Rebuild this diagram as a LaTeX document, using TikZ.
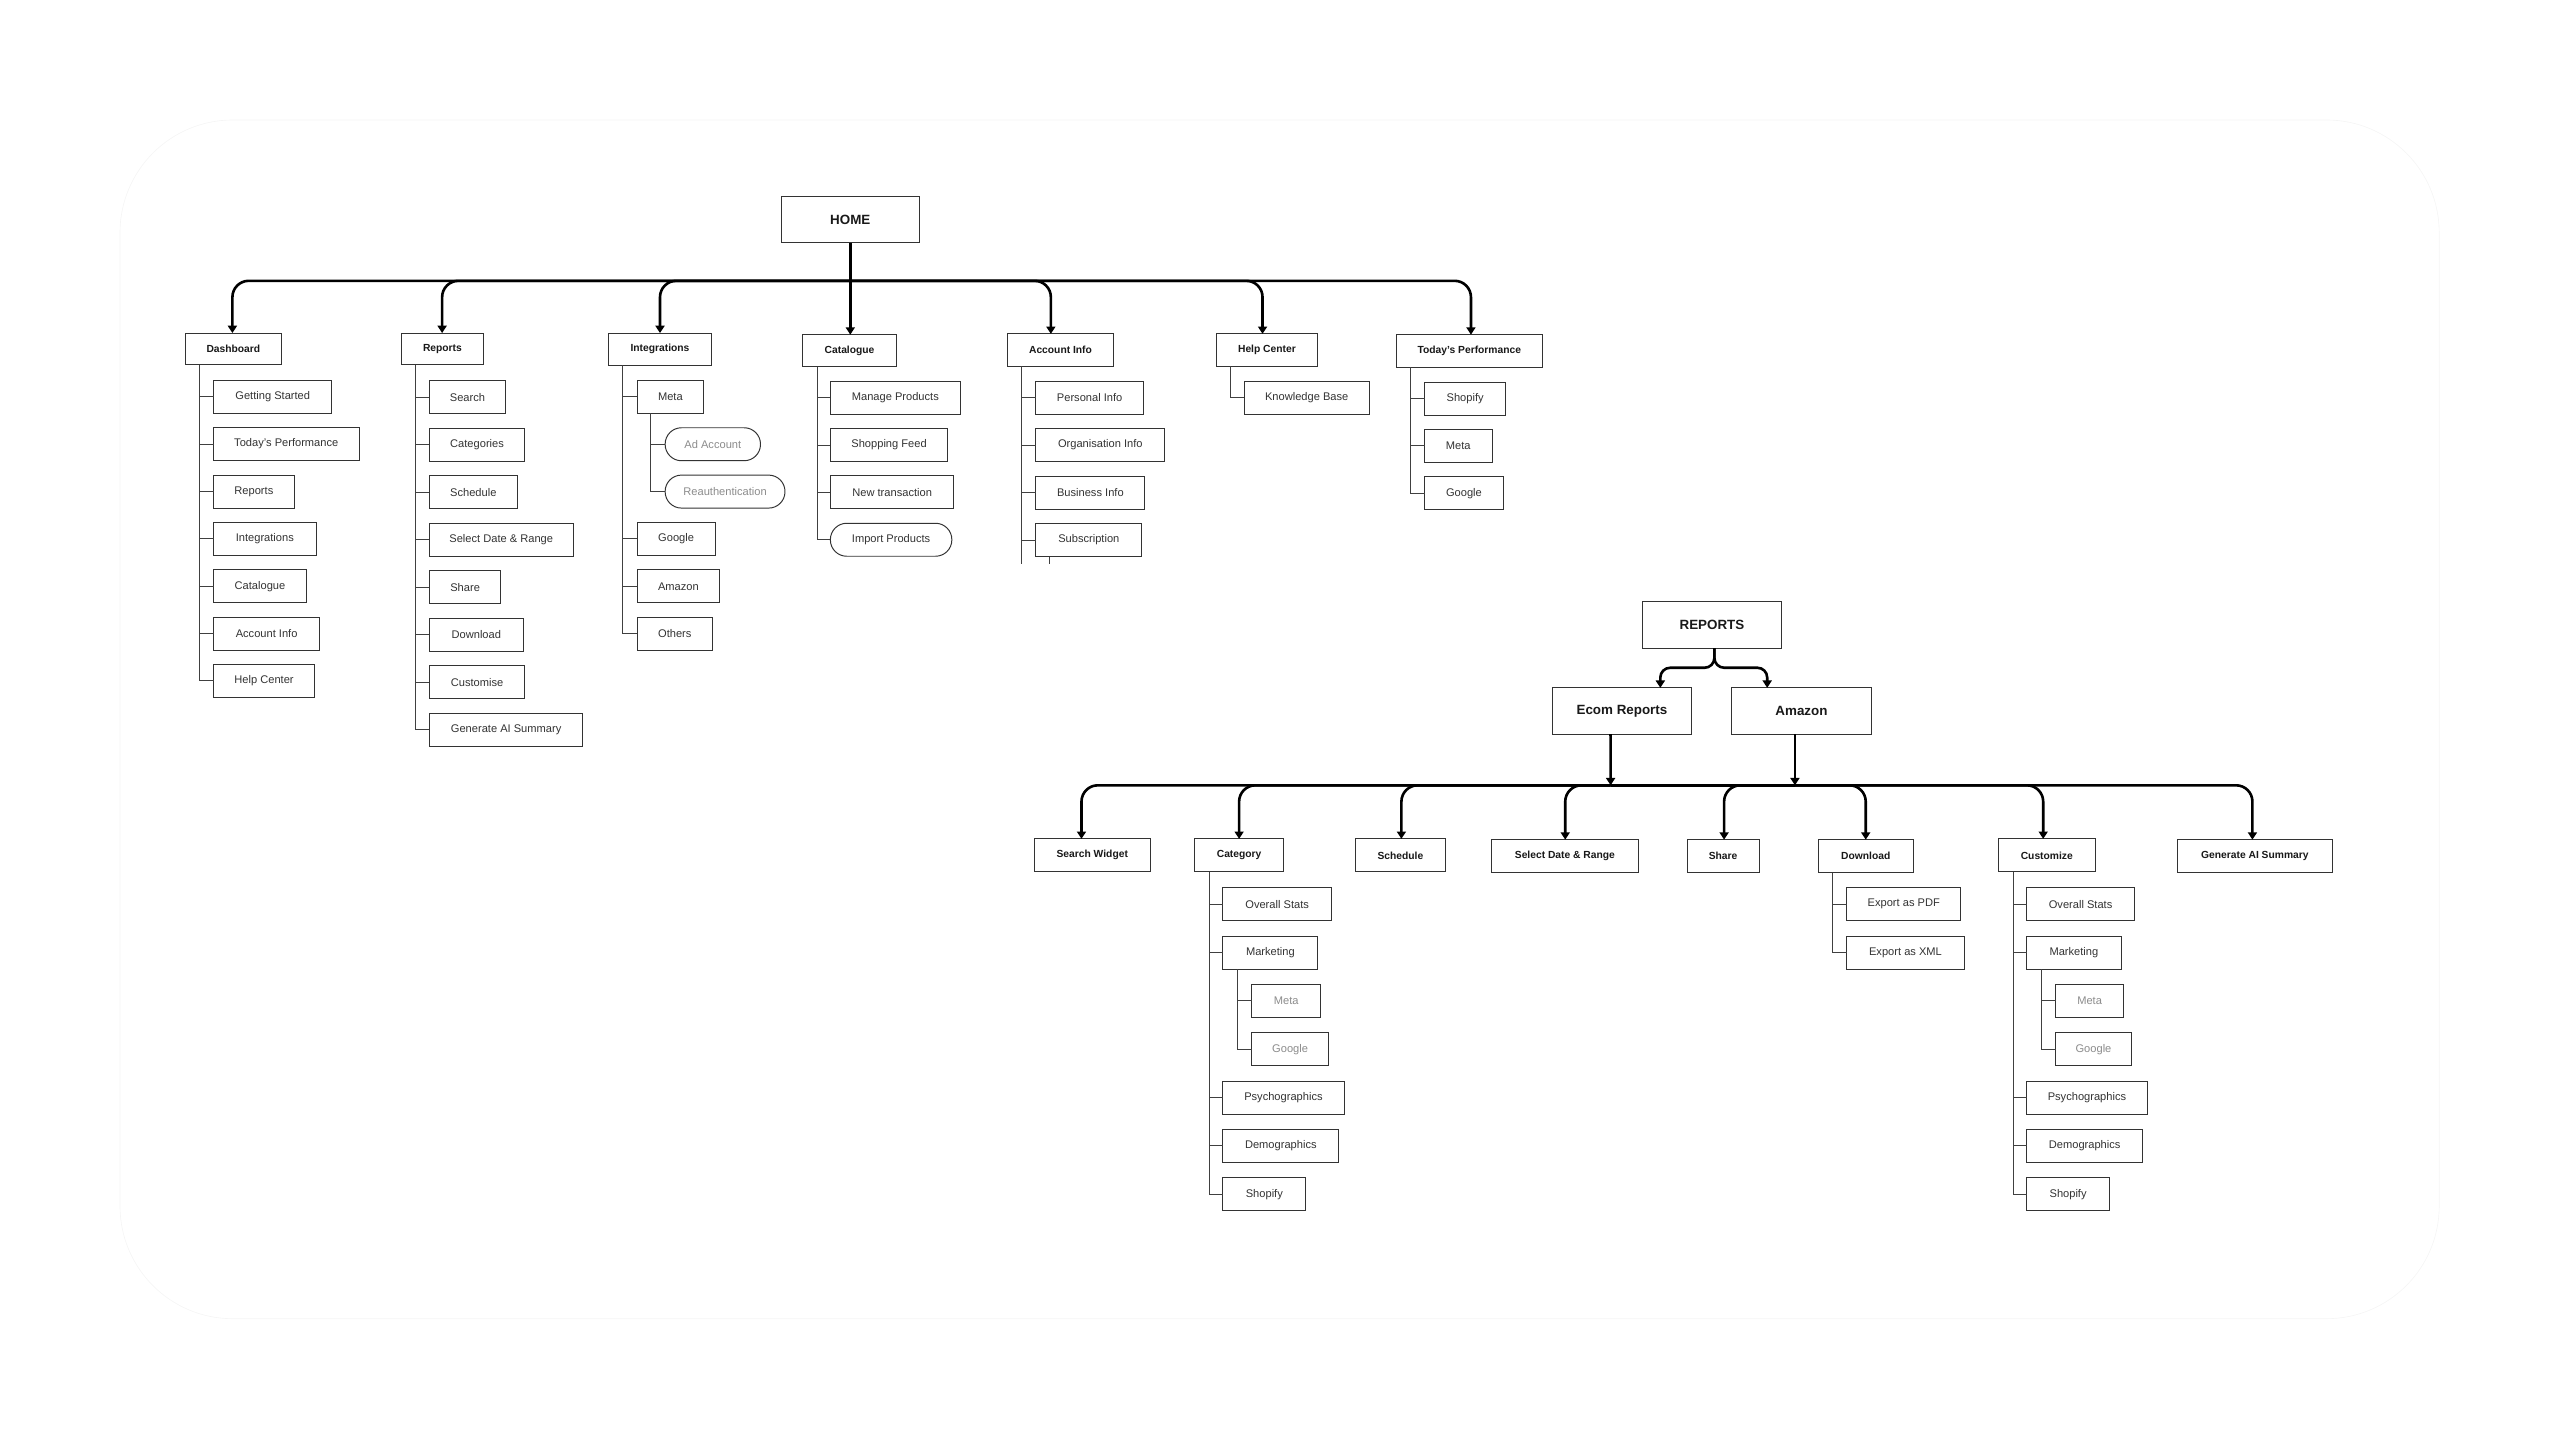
\documentclass[tikz,border=0pt]{standalone}
\usepackage{fontspec}
\setmainfont{Liberation Sans}
\usetikzlibrary{arrows.meta}
\newcommand\bx[7]{\node[#1, minimum width={(#5)-(#3)}, minimum height={(#6)-(#4)}] (#2) at ({((#3)+(#5))/2},{((#4)+(#6))/2}) {#7};}
\newcommand\sbx[6]{\bx{#1}{#2}{#3}{#5}{#4}{(#5)+20.2}{#6}}
\tikzset{
 basebox/.style={draw=black!80, line width=0.6pt, inner sep=0pt, outer sep=0pt, fill=white},
 rootbox/.style={basebox, font=\fontsize{8.2}{9}\selectfont\bfseries, text=black!90},
 lvlone/.style={basebox, font=\fontsize{6.3}{7}\selectfont\bfseries, text=black!90},
 subbox/.style={basebox, font=\fontsize{6.8}{8}\selectfont, text=black!80},
 greybox/.style={subbox, text=black!45},
 pillbox/.style={subbox, rounded corners=10pt},
 greypill/.style={greybox, rounded corners=10pt},
 treeline/.style={draw=black!75, line width=0.6pt},
 bigarrow/.style={draw=black, line width=1.6pt, -{Triangle[width=5.5pt,length=4.5pt]}},
 busline/.style={draw=black, line width=1.6pt},
}
\begin{document}
\begin{tikzpicture}[x=1pt,y=-1pt]
\useasboundingbox (0,0) rectangle (1568,882);
\draw[black!4, line width=0.4pt, rounded corners=69pt] (73.5,73.5) rectangle (1494,807.7);

% ---------- HOME tree ----------
\bx{rootbox}{home}{478.6}{120.4}{563}{148.8}{HOME}
\bx{lvlone}{dash}{113.6}{204}{172.3}{223.5}{Dashboard}
\bx{lvlone}{rep}{246}{204}{296}{223.5}{Reports}
\bx{lvlone}{integ}{373}{204}{435.5}{223.8}{Integrations}
\bx{lvlone}{catl}{491.8}{205}{548.9}{224.5}{Catalogue}
\bx{lvlone}{acct}{617.3}{204.5}{681.8}{224.4}{Account Info}
\bx{lvlone}{help}{745}{204.5}{807}{224.4}{Help Center}
\bx{lvlone}{today}{855.3}{205}{944.6}{225}{Today's Performance}

\coordinate (hb) at (520.5,172);
\draw[bigarrow] (home.south) -- (home.south |- catl.north);
\draw[bigarrow, rounded corners=10pt] (hb) -| ([xshift=-0.6pt]dash.north);
\draw[bigarrow, rounded corners=10pt] (hb) -| ([xshift=-0.2pt]rep.north);
\draw[bigarrow, rounded corners=10pt] (hb) -| (integ.north);
\draw[bigarrow, rounded corners=10pt] (hb) -| ([xshift=-5.9pt]acct.north);
\draw[bigarrow, rounded corners=10pt] (hb) -| ([xshift=-2.7pt]help.north);
\draw[bigarrow, rounded corners=10pt] (hb) -| ([xshift=1pt]today.north);

% Dashboard children
\sbx{subbox}{d1}{130.8}{203.3}{232.8}{Getting Started}
\sbx{subbox}{d2}{130.8}{219.9}{261.9}{Today's Performance}
\sbx{subbox}{d3}{130.8}{180.2}{291}{Reports}
\sbx{subbox}{d4}{130.8}{193.6}{320}{Integrations}
\sbx{subbox}{d5}{130.8}{187.7}{349}{Catalogue}
\sbx{subbox}{d6}{130.8}{195.8}{378}{Account Info}
\sbx{subbox}{d7}{130.8}{192.7}{407}{Help Center}
\foreach \c in {d1,d2,d3,d4,d5,d6,d7} \draw[treeline] ([xshift=8.8pt]dash.south west) |- (\c.west);

% Reports children
\sbx{subbox}{r1}{263}{309.6}{233.3}{Search}
\sbx{subbox}{r2}{263}{321.4}{262.4}{Categories}
\sbx{subbox}{r3}{263}{316.8}{291.4}{Schedule}
\sbx{subbox}{r4}{263}{351}{320.5}{Select Date \& Range}
\sbx{subbox}{r5}{263}{306.8}{349.5}{Share}
\sbx{subbox}{r6}{263}{320.5}{378.6}{Download}
\sbx{subbox}{r7}{263}{321.4}{407.8}{Customise}
\sbx{subbox}{r8}{263}{357}{436.9}{Generate AI Summary}
\foreach \c in {r1,r2,r3,r4,r5,r6,r7,r8} \draw[treeline] ([xshift=8.6pt]rep.south west) |- (\c.west);

% Integrations children
\sbx{subbox}{i1}{390.2}{431}{232.8}{Meta}
\sbx{greypill}{i1a}{407.4}{465.8}{262}{Ad Account}
\sbx{greypill}{i1b}{407.4}{480.8}{291}{Reauthentication}
\sbx{subbox}{i2}{390.2}{438}{320}{Google}
\sbx{subbox}{i3}{390.2}{440.8}{349}{Amazon}
\sbx{subbox}{i4}{390.2}{436.4}{378}{Others}
\foreach \c in {i1,i2,i3,i4} \draw[treeline] ([xshift=8.4pt]integ.south west) |- (\c.west);
\foreach \c in {i1a,i1b} \draw[treeline] ([xshift=8.4pt]i1.south west) |- (\c.west);

% Catalogue children
\sbx{subbox}{c1}{508.6}{588.2}{233.5}{Manage Products}
\sbx{subbox}{c2}{508.6}{580.5}{262.5}{Shopping Feed}
\sbx{subbox}{c3}{508.6}{584.3}{291.4}{New transaction}
\sbx{pillbox}{c4}{508.6}{583}{320.5}{Import Products}
\foreach \c in {c1,c2,c3,c4} \draw[treeline] ([xshift=8.6pt]catl.south west) |- (\c.west);

% Account Info children
\sbx{subbox}{a1}{634.5}{700.3}{233.4}{Personal Info}
\sbx{subbox}{a2}{634.5}{713.4}{262.5}{Organisation Info}
\sbx{subbox}{a3}{634.5}{701.2}{291.6}{Business Info}
\sbx{subbox}{a4}{634.5}{699.3}{320.7}{Subscription}
\foreach \c in {a1,a2,a3,a4} \draw[treeline] ([xshift=8.4pt]acct.south west) |- (\c.west);
\draw[treeline] ([xshift=8.4pt]acct.south west) -- ([xshift=8.4pt]acct.south west |- a4.south) -- ++(0,4.5);
\draw[treeline] ([xshift=8.5pt]a4.south west) -- ++(0,4.5);

% Help Center children
\sbx{subbox}{h1}{762}{838.7}{233.4}{Knowledge Base}
\draw[treeline] ([xshift=8.5pt]help.south west) |- (h1.west);

% Today's Performance children
\sbx{subbox}{t1}{872.5}{922.3}{234}{Shopify}
\sbx{subbox}{t2}{872.5}{913.9}{263}{Meta}
\sbx{subbox}{t3}{872.5}{920.8}{292}{Google}
\foreach \c in {t1,t2,t3} \draw[treeline] ([xshift=8.7pt]today.south west) |- (\c.west);

% ---------- REPORTS tree ----------
\bx{rootbox}{reports2}{1005.8}{368.6}{1091.3}{397}{REPORTS}
\bx{rootbox}{ecom}{950.7}{421.3}{1036.2}{449.6}{Ecom Reports}
\bx{rootbox}{amz}{1060.6}{421.3}{1146.2}{449.6}{Amazon}
\draw[bigarrow, rounded corners=6pt] ([xshift=1.5pt]reports2.south) -- ++(0,12) -| ([xshift=23.5pt]ecom.north);
\draw[bigarrow, rounded corners=6pt] ([xshift=1.5pt]reports2.south) -- ++(0,12) -| ([xshift=-21pt]amz.north);

\bx{lvlone}{sw}{633.6}{513.8}{704.4}{534}{Search Widget}
\bx{lvlone}{cat}{731.9}{513.8}{786}{534}{Category}
\bx{lvlone}{sch}{830.2}{513.8}{885.3}{534}{Schedule}
\bx{lvlone}{sdr}{913.5}{514.3}{1003.5}{534.5}{Select Date \& Range}
\bx{lvlone}{shr}{1033.3}{514.3}{1077.5}{534.5}{Share}
\bx{lvlone}{dl}{1113.7}{514.3}{1171.8}{534.5}{Download}
\bx{lvlone}{cus}{1224}{513.8}{1283.3}{534}{Customize}
\bx{lvlone}{gai}{1333.6}{514.3}{1428.6}{534.5}{Generate AI Summary}

\coordinate (eb) at (986.5,481);
\coordinate (ab) at (1099.4,481);
\draw[bigarrow] ([xshift=-7pt]ecom.south) -- (eb);
\draw[bigarrow] ([xshift=-4pt]amz.south) -- (ab);
\draw[busline] (eb) -- (ab);
\draw[bigarrow, rounded corners=10pt] (eb) -| ([xshift=-6.6pt]sw.north);
\draw[bigarrow, rounded corners=10pt] (eb) -| (cat.north);
\draw[bigarrow, rounded corners=10pt] (eb) -| ([xshift=0.6pt]sch.north);
\draw[bigarrow, rounded corners=10pt] (eb) -| ([xshift=0.2pt]sdr.north);
\draw[bigarrow, rounded corners=10pt] (ab) -| ([xshift=0.6pt]shr.north);
\draw[bigarrow, rounded corners=10pt] (ab) -| (dl.north);
\draw[bigarrow, rounded corners=10pt] (ab) -| ([xshift=-2.2pt]cus.north);
\draw[bigarrow, rounded corners=10pt] (ab) -| ([xshift=-1.5pt]gai.north);

% Category children
\sbx{subbox}{k1}{749}{815.5}{543.8}{Overall Stats}
\sbx{subbox}{k2}{749}{807.2}{573.6}{Marketing}
\sbx{greybox}{k2a}{766.8}{808.8}{603}{Meta}
\sbx{greybox}{k2b}{766.8}{813.6}{632.6}{Google}
\sbx{subbox}{k3}{749}{823.2}{662.3}{Psychographics}
\sbx{subbox}{k4}{749}{820}{691.8}{Demographics}
\sbx{subbox}{k5}{749}{799.8}{721.5}{Shopify}
\foreach \c in {k1,k2,k3,k4,k5} \draw[treeline] ([xshift=8.6pt]cat.south west) |- (\c.west);
\foreach \c in {k2a,k2b} \draw[treeline] ([xshift=9pt]k2.south west) |- (\c.west);

% Download children
\sbx{subbox}{x1}{1131.2}{1200.9}{543.8}{Export as PDF}
\sbx{subbox}{x2}{1131.2}{1203}{573.6}{Export as XML}
\foreach \c in {x1,x2} \draw[treeline] ([xshift=8.7pt]dl.south west) |- (\c.west);

% Customize children
\sbx{subbox}{u1}{1241.3}{1307.4}{543.8}{Overall Stats}
\sbx{subbox}{u2}{1241.3}{1299.2}{573.6}{Marketing}
\sbx{greybox}{u2a}{1259}{1300.8}{603}{Meta}
\sbx{greybox}{u2b}{1259}{1305.5}{632.6}{Google}
\sbx{subbox}{u3}{1241.3}{1315.2}{662.3}{Psychographics}
\sbx{subbox}{u4}{1241.3}{1312.4}{691.8}{Demographics}
\sbx{subbox}{u5}{1241.3}{1292.1}{721.5}{Shopify}
\foreach \c in {u1,u2,u3,u4,u5} \draw[treeline] ([xshift=9pt]cus.south west) |- (\c.west);
\foreach \c in {u2a,u2b} \draw[treeline] ([xshift=9pt]u2.south west) |- (\c.west);
\end{tikzpicture}
\end{document}
